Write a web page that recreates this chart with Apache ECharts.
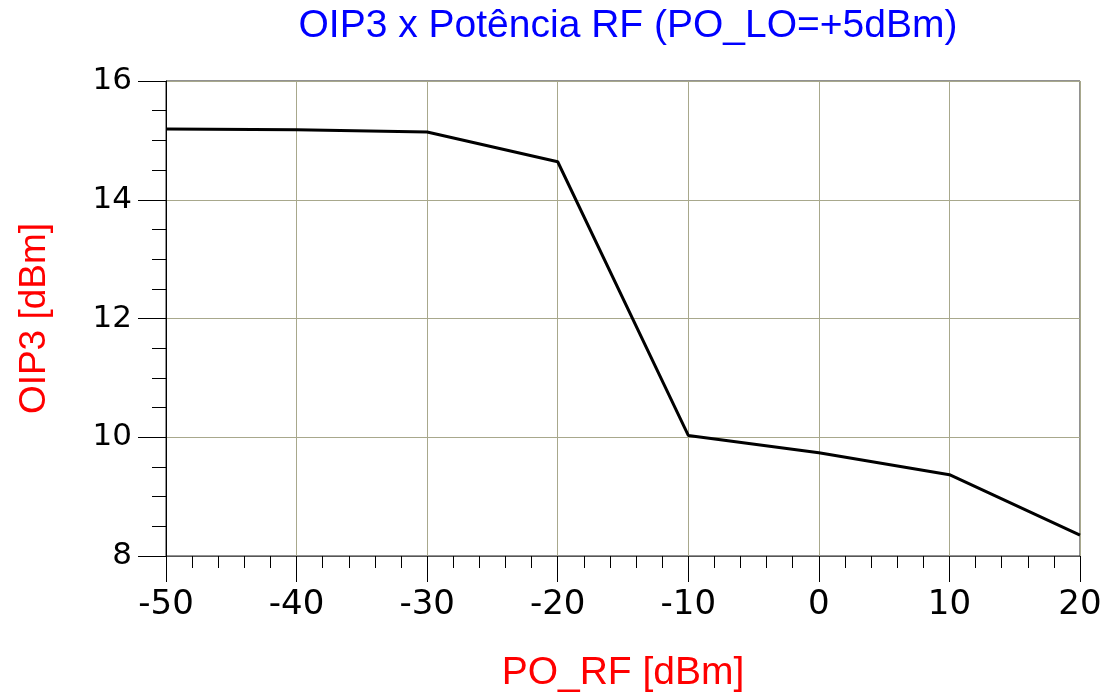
<!DOCTYPE html>
<html>
<head>
<meta charset="utf-8">
<script src="https://cdn.jsdelivr.net/npm/echarts@6/dist/echarts.min.js"></script>
<style>
html,body{margin:0;padding:0;background:#fff;}
#chart{width:1109px;height:699px;}
</style>
</head>
<body>
<div id="chart"></div>
<script>
const titleText = 'OIP3 x Potência RF (PO_LO=+5dBm)';
const xName = 'PO_RF [dBm]';
const yName = 'OIP3 [dBm]';
const poRF = [-50, -40, -30, -20, -10, 0, 10, 20];
const oip3 = [15.19, 15.18, 15.14, 14.64, 10.03, 9.74, 9.37, 8.35];

const chart = echarts.init(document.getElementById('chart'));
const font = 'Liberation Sans, Arial, sans-serif';
const tickFont = 'DejaVu Sans, sans-serif';
chart.setOption({
  animation: false,
  backgroundColor: '#fff',
  title: {
    text: titleText,
    left: 623, top: 2, textAlign: 'center',
    textStyle: {color: '#0000ff', fontSize: 39, fontWeight: 'normal', fontFamily: font}
  },
  grid: {left: 166, right: 29, top: 81, bottom: 143, show: true, borderColor: '#222', borderWidth: 1},
  xAxis: {
    type: 'value', min: -50, max: 20, interval: 10,
    name: xName, nameLocation: 'middle', nameGap: 98,
    nameTextStyle: {color: '#ff0000', fontSize: 39, fontFamily: font},
    axisLine: {show: true, onZero: false, lineStyle: {color: '#555', width: 1}},
    axisTick: {show: true, inside: false, length: 26, lineStyle: {color: '#000'}},
    minorTick: {show: true, splitNumber: 5, length: 12, lineStyle: {color: '#000'}},
    axisLabel: {color: '#000', fontSize: 34, fontFamily: tickFont, margin: 32},
    splitLine: {show: true, lineStyle: {color: '#a8a88c', width: 1}}
  },
  yAxis: {
    type: 'value', min: 8, max: 16, interval: 2,
    name: yName, nameLocation: 'middle', nameGap: 113,
    nameTextStyle: {color: '#ff0000', fontSize: 37, fontFamily: font},
    axisLine: {show: true, onZero: false, lineStyle: {color: '#000', width: 1}},
    axisTick: {show: true, inside: false, length: 28, lineStyle: {color: '#000'}},
    minorTick: {show: true, splitNumber: 4, length: 14, lineStyle: {color: '#000'}},
    axisLabel: {color: '#000', fontSize: 31, fontFamily: tickFont, margin: 34},
    splitLine: {show: true, lineStyle: {color: '#a8a88c', width: 1}}
  },
  series: [{
    type: 'line',
    data: poRF.map((x, i) => [x, oip3[i]]),
    showSymbol: false,
    lineStyle: {color: '#000', width: 3},
    clip: true
  }]
});
</script>
</body>
</html>
